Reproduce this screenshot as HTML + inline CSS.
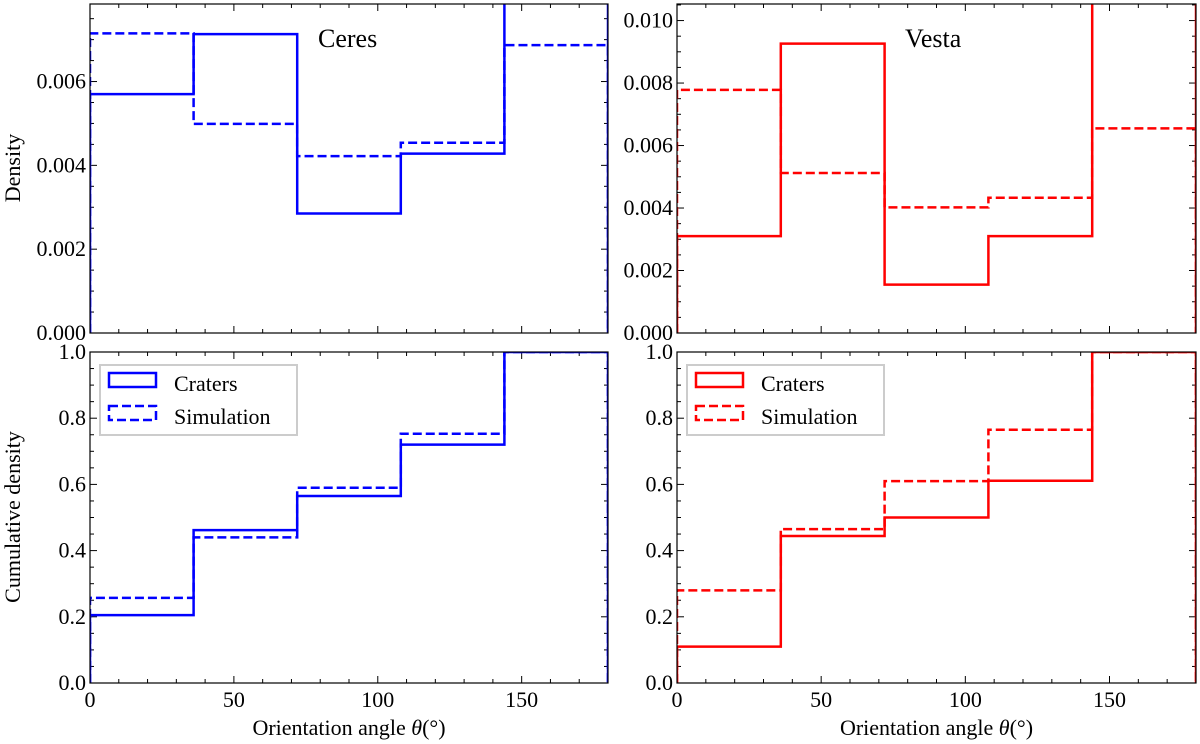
<!DOCTYPE html>
<html><head><meta charset="utf-8"><style>
html,body{margin:0;padding:0;background:#fff}
svg{display:block;font-family:"Liberation Serif",serif}
</style></head><body>
<svg id="fig" width="1200" height="744" xmlns="http://www.w3.org/2000/svg"></svg>
<script>
const binEdges=[0,36,72,108,144,180];
const ceresDensityCraters=[0.0057,0.00713,0.00285,0.00428,0.0079];
const ceresDensitySim=[0.00715,0.00499,0.00422,0.00454,0.00687];
const vestaDensityCraters=[0.0031,0.00926,0.00155,0.0031,0.0108];
const vestaDensitySim=[0.00778,0.00512,0.00402,0.00433,0.00655];
const ceresCumCraters=[0.205,0.462,0.565,0.72,1.0];
const ceresCumSim=[0.257,0.44,0.59,0.753,1.0];
const vestaCumCraters=[0.11,0.444,0.5,0.611,1.0];
const vestaCumSim=[0.28,0.465,0.61,0.765,1.0];
const xTicks=[0,50,100,150];
const densTicksL=["0.000","0.002","0.004","0.006"];
const densTicksR=["0.000","0.002","0.004","0.006","0.008","0.010"];
const cumTicks=["0.0","0.2","0.4","0.6","0.8","1.0"];

const NS="http://www.w3.org/2000/svg";
const svg=document.getElementById('fig');
function mk(tag,attrs,parent){const e=document.createElementNS(NS,tag);for(const k in attrs)e.setAttribute(k,attrs[k]);(parent||svg).appendChild(e);return e;}

function panel(o){
  const g=mk('g',{});
  
  
  const X=v=>o.x0+(v-0)/(180)*(o.x1-o.x0);
  const Y=v=>o.y1-(v-o.ymin)/(o.ymax-o.ymin)*(o.y1-o.y0);
  const cid='c'+o.name;
  const cp=mk('clipPath',{id:cid},g);mk('rect',{x:o.x0,y:o.y0,width:o.x1-o.x0,height:o.y1-o.y0},cp);
  const tg=mk('g',{stroke:'#000','stroke-width':1},g);
  for(let v=0;v<=180;v+=10){const maj=v%50===0;const L=maj?7:4;const x=X(v);
    mk('line',{x1:x,x2:x,y1:o.y1,y2:o.y1-L},tg);mk('line',{x1:x,x2:x,y1:o.y0,y2:o.y0+L},tg);}
  for(let i=0;;i++){const v=o.ymin+i*o.minor;if(v>o.ymax+1e-12)break;const maj=Math.abs(Math.round(v/o.major)*o.major-v)<1e-9;const L=maj?7:4;const y=Y(v);
    mk('line',{x1:o.x0,x2:o.x0+L,y1:y,y2:y},tg);mk('line',{x1:o.x1,x2:o.x1-L,y1:y,y2:y},tg);}
  o.yLabels.forEach(s=>{const t=mk('text',{x:o.x0-4,y:Y(parseFloat(s))+7,'text-anchor':'end','font-size':22},g);t.textContent=s;
    });
  if(o.xlab){xTicks.forEach(v=>{const t=mk('text',{x:X(v),y:o.y1+24,'text-anchor':'middle','font-size':22},g);t.textContent=v;
    });
    const t=mk('text',{x:(o.x0+o.x1)/2,y:o.y1+52,'text-anchor':'middle','font-size':22},g);
    t.innerHTML='Orientation angle <tspan font-style="italic">θ</tspan>(°)';
    }
  o.series.forEach(s=>{let d='M'+X(binEdges[0])+','+Y(0);
    s.vals.forEach((v,i)=>{d+=' L'+X(binEdges[i])+','+Y(v)+' L'+X(binEdges[i+1])+','+Y(v);});
    d+=' L'+X(binEdges[binEdges.length-1])+','+Y(0);
    const p=mk('path',{d:d,fill:'none',stroke:o.color,'stroke-width':2.5,'clip-path':'url(#'+cid+')'},g);
    if(s.dash)p.setAttribute('stroke-dasharray','9,4');
    });
  mk('rect',{x:o.x0,y:o.y0,width:o.x1-o.x0,height:o.y1-o.y0,fill:'none',stroke:'#000','stroke-width':1.2},g);
  if(o.title){const t=mk('text',{x:o.tx,y:o.y0+43,'font-size':26},g);t.textContent=o.title;
    }
  if(o.legend){const lg=mk('g',{},g);
    const lx=o.x0+10;
    mk('rect',{x:lx,y:365,width:197,height:70,fill:'#fff',stroke:'#ccc','stroke-width':2},lg);
    mk('rect',{x:lx+9,y:373,width:47,height:14,fill:'none',stroke:o.color,'stroke-width':2.5},lg);
    mk('rect',{x:lx+9,y:406,width:47,height:14,fill:'none',stroke:o.color,'stroke-width':2.5,'stroke-dasharray':'9,4'},lg);
    const a=mk('text',{x:lx+74,y:391,'font-size':22},lg);a.textContent='Craters';
    
    const b=mk('text',{x:lx+74,y:424,'font-size':22},lg);b.textContent='Simulation';
    }
}
const L0=90,L1=608,R0=677,R1=1196,T0=4,T1=333,B0=352,B1=683;
panel({name:'ceres-density',x0:L0,x1:L1,y0:T0,y1:T1,ymin:0,ymax:0.00785,major:0.002,minor:0.0005,yLabels:densTicksL,color:'#0000ff',title:'Ceres',tx:318,
  series:[{name:'ceres-craters-density',vals:ceresDensityCraters},{name:'ceres-sim-density',vals:ceresDensitySim,dash:1}]});
panel({name:'vesta-density',x0:R0,x1:R1,y0:T0,y1:T1,ymin:0,ymax:0.01053,major:0.002,minor:0.0005,yLabels:densTicksR,color:'#ff0000',title:'Vesta',tx:905,
  series:[{name:'vesta-craters-density',vals:vestaDensityCraters},{name:'vesta-sim-density',vals:vestaDensitySim,dash:1}]});
panel({name:'ceres-cumulative',x0:L0,x1:L1,y0:B0,y1:B1,ymin:0,ymax:1,major:0.2,minor:0.05,yLabels:cumTicks,color:'#0000ff',xlab:1,legend:1,
  series:[{name:'ceres-craters-cum',vals:ceresCumCraters},{name:'ceres-sim-cum',vals:ceresCumSim,dash:1}]});
panel({name:'vesta-cumulative',x0:R0,x1:R1,y0:B0,y1:B1,ymin:0,ymax:1,major:0.2,minor:0.05,yLabels:cumTicks,color:'#ff0000',xlab:1,legend:1,
  series:[{name:'vesta-craters-cum',vals:vestaCumCraters},{name:'vesta-sim-cum',vals:vestaCumSim,dash:1}]});
let t=mk('text',{x:20,y:168,'text-anchor':'middle','font-size':22,transform:'rotate(-90 20 168)'});t.textContent='Density';

t=mk('text',{x:20,y:517,'text-anchor':'middle','font-size':22,transform:'rotate(-90 20 517)'});t.textContent='Cumulative density';

</script>
</body></html>
